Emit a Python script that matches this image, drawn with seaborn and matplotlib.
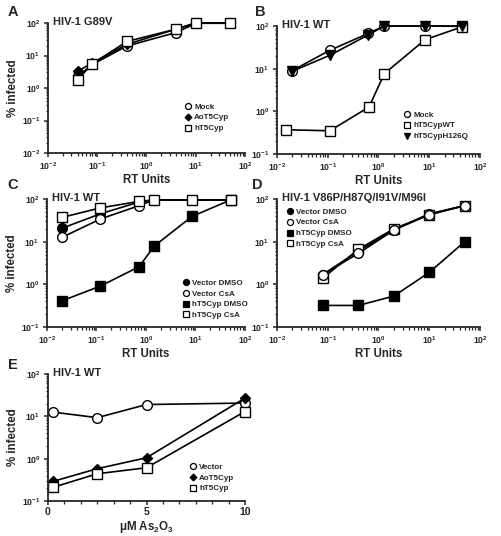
import numpy as np
import pandas as pd
import matplotlib
matplotlib.use("Agg")
import matplotlib.pyplot as plt
import seaborn as sns
from matplotlib.lines import Line2D
from matplotlib.ticker import LogLocator, FixedLocator, MultipleLocator, NullFormatter

sns.set_style("ticks")
plt.rcParams['font.family'] = ['Liberation Sans', 'DejaVu Sans']
plt.rcParams['font.weight'] = 'bold'
plt.rcParams['mathtext.fontset'] = 'custom'
plt.rcParams['mathtext.rm'] = 'Liberation Sans:bold'
plt.rcParams['mathtext.bf'] = 'Liberation Sans:bold'
plt.rcParams['mathtext.it'] = 'Liberation Sans:bold'

# ---------------- Data ----------------
# Panel A: HIV-1 G89V
a_x = [0.04, 0.08, 0.4, 4, 10, 50]
a_mock = [2.3, 5.3, 19.6, 51, 98, 98]
a_ao = [3.3, 5.9, 22, 65, 100, 100]
a_h = [1.8, 5.6, 27, 65, 100, 100]

# Panel B: HIV-1 WT
b_x = [0.02, 0.11, 0.63, 1.3, 8.3, 45]
b_x_wt = [0.015, 0.11, 0.65, 1.3, 8.3, 45]
b_mock = [9, 27, 67, 100, 100, 98]
b_wt = [0.37, 0.35, 1.26, 7.6, 48, 96]
b_h126q = [8.7, 20.6, 62, 100, 100, 100]

# Panel C: HIV-1 WT
c_x = [0.02, 0.12, 0.73, 1.45, 8.5, 51]
c_vec_dmso = [20.6, 45, 85, 95, 95, 95]
c_vec_csa = [12.6, 34, 70, 95, 95, 95]
c_h_dmso = [0.41, 0.91, 2.6, 7.8, 39, 95]
c_h_csa = [37, 62, 88, 95, 95, 95]

# Panel D: HIV-1 V86P/H87Q/I91V/M96I
d_x = [0.08, 0.4, 2, 10, 50]
d_vec_dmso = [1.7, 6, 19, 45, 70]
d_vec_csa = [1.7, 5.3, 18.6, 43, 70]
d_h_dmso = [0.32, 0.32, 0.53, 1.9, 10]
d_h_csa = [1.4, 6.6, 20, 43, 70]

# Panel E: HIV-1 WT vs As2O3
e_x = [0.25, 2.5, 5, 10]
e_vec = [12.6, 9.3, 19, 20.6]
e_ao = [0.29, 0.58, 1.05, 27]
e_h = [0.21, 0.44, 0.61, 13]

W, H = 502, 536
fig = plt.figure(figsize=(W / 100, H / 100), dpi=100)


def add_ax(l, r, t, b):
    return fig.add_axes([l / W, 1 - b / H, (r - l) / W, (b - t) / H])


STY = {
    'circle_w': dict(marker='o', markerfacecolor='white', markersize=7),
    'circle_k': dict(marker='o', markerfacecolor='black', markersize=7),
    'square_w': dict(marker='s', markerfacecolor='white', markersize=7.5),
    'square_k': dict(marker='s', markerfacecolor='black', markersize=7),
    'diamond_k': dict(marker='D', markerfacecolor='black', markersize=5.5),
    'tri_k': dict(marker='v', markerfacecolor='black', markersize=7),
}


def series(ax, x, y, key):
    df = pd.DataFrame({'x': x, 'y': y})
    sns.lineplot(data=df, x='x', y='y', ax=ax, color='black', linewidth=1.2,
                 markeredgecolor='black', markeredgewidth=1.0, sort=False,
                 estimator=None, clip_on=False, **STY[key])


def sup(e):
    return r"$\mathbf{10^{%d}}$" % e


def style_log(ax, xlim, ylim, xexps, yexps):
    ax.set_xscale('log')
    ax.set_yscale('log')
    ax.set_xlim(*xlim)
    ax.set_ylim(*ylim)
    ax.xaxis.set_major_locator(FixedLocator([10.0 ** e for e in xexps]))
    ax.set_xticklabels([sup(e) for e in xexps])
    ax.yaxis.set_major_locator(FixedLocator([10.0 ** e for e in yexps]))
    ax.set_yticklabels([sup(e) for e in yexps])
    ax.xaxis.set_minor_locator(LogLocator(base=10, subs=np.arange(2, 10), numticks=20))
    ax.yaxis.set_minor_locator(LogLocator(base=10, subs=np.arange(2, 10), numticks=20))
    ax.xaxis.set_minor_formatter(NullFormatter())
    ax.yaxis.set_minor_formatter(NullFormatter())


def common(ax, title, xlabel, ylabel):
    sns.despine(ax=ax)
    for s in ['left', 'bottom']:
        ax.spines[s].set_linewidth(1.3)
    ax.tick_params(which='major', direction='out', length=3, width=1.1, labelsize=6.2, pad=2.5)
    ax.tick_params(which='minor', direction='out', length=1.8, width=0.9)
    ax.text(0.025, 1.01, title, transform=ax.transAxes, fontsize=8, fontweight='bold',
            ha='left', va='center')
    ax.set_xlabel(xlabel, fontsize=8.3, fontweight='bold', labelpad=1.5)
    ax.set_ylabel(ylabel, fontsize=8.3, fontweight='bold', labelpad=2)


def legend(ax, items, lx, ty):
    handles = [Line2D([], [], linestyle='none', color='black', markeredgecolor='black',
                      markeredgewidth=0.9, **{k: v for k, v in STY[key].items()})
               for key, _ in items]
    labels = [lab for _, lab in items]
    ax.legend(handles, labels, loc='upper left', bbox_to_anchor=(lx / W, 1 - ty / H),
              bbox_transform=fig.transFigure, frameon=False, handlelength=0.9,
              handletextpad=0.35, labelspacing=0.4, borderpad=0, borderaxespad=0,
              markerscale=0.62, prop={'size': 5.8, 'weight': 'bold'})


# Panel A
axA = add_ax(48, 245, 23, 153)
series(axA, a_x, a_mock, 'circle_w')
series(axA, a_x, a_ao, 'diamond_k')
series(axA, a_x, a_h, 'square_w')
style_log(axA, (1e-2, 1e2), (1e-2, 1e2), [-2, -1, 0, 1, 2], [-2, -1, 0, 1, 2])
common(axA, 'HIV-1 G89V', 'RT Units', '% infected')
legend(axA, [('circle_w', 'Mock'), ('diamond_k', 'AoT5Cyp'), ('square_w', 'hT5Cyp')], 184, 103)

# Panel B
axB = add_ax(277, 480, 26, 154)
series(axB, b_x, b_mock, 'circle_w')
series(axB, b_x_wt, b_wt, 'square_w')
series(axB, b_x, b_h126q, 'tri_k')
style_log(axB, (1e-2, 1e2), (1e-1, 1e2), [-2, -1, 0, 1, 2], [-1, 0, 1, 2])
common(axB, 'HIV-1 WT', 'RT Units', '')
legend(axB, [('circle_w', 'Mock'), ('square_w', 'hT5CypWT'), ('tri_k', 'hT5CypH126Q')], 403, 111)

# Panel C
axC = add_ax(47, 245, 199, 327)
series(axC, c_x, c_vec_dmso, 'circle_k')
series(axC, c_x, c_vec_csa, 'circle_w')
series(axC, c_x, c_h_dmso, 'square_k')
series(axC, c_x, c_h_csa, 'square_w')
style_log(axC, (1e-2, 1e2), (1e-1, 1e2), [-2, -1, 0, 1, 2], [-1, 0, 1, 2])
common(axC, 'HIV-1 WT', 'RT Units', '% infected')
legend(axC, [('circle_k', 'Vector DMSO'), ('circle_w', 'Vector CsA'),
             ('square_k', 'hT5Cyp DMSO'), ('square_w', 'hT5Cyp CsA')], 182, 279)

# Panel D
axD = add_ax(277, 480, 199, 327)
series(axD, d_x, d_vec_dmso, 'circle_k')
series(axD, d_x, d_h_dmso, 'square_k')
series(axD, d_x, d_h_csa, 'square_w')
series(axD, d_x, d_vec_csa, 'circle_w')
style_log(axD, (1e-2, 1e2), (1e-1, 1e2), [-2, -1, 0, 1, 2], [-1, 0, 1, 2])
common(axD, 'HIV-1 V86P/H87Q/I91V/M96I', 'RT Units', '')
legend(axD, [('circle_k', 'Vector DMSO'), ('circle_w', 'Vector CsA'),
             ('square_k', 'hT5Cyp DMSO'), ('square_w', 'hT5Cyp CsA')], 286, 208)

# Panel E
axE = add_ax(48, 245, 374, 501)
series(axE, e_x, e_vec, 'circle_w')
series(axE, e_x, e_ao, 'diamond_k')
series(axE, e_x, e_h, 'square_w')
axE.set_yscale('log')
axE.set_xlim(0, 10)
axE.set_ylim(1e-1, 1e2)
axE.xaxis.set_major_locator(FixedLocator([0, 5, 10]))
axE.set_xticklabels(['0', '5', '10'])
axE.xaxis.set_minor_locator(MultipleLocator(5 / 6))
axE.yaxis.set_major_locator(FixedLocator([0.1, 1, 10, 100]))
axE.set_yticklabels([sup(e) for e in [-1, 0, 1, 2]])
axE.yaxis.set_minor_locator(LogLocator(base=10, subs=np.arange(2, 10), numticks=20))
axE.yaxis.set_minor_formatter(NullFormatter())
common(axE, 'HIV-1 WT', r'μM As$_\mathbf{2}$O$_\mathbf{3}$', '% infected')
axE.tick_params(axis='x', which='major', labelsize=7.5, pad=1.5)
legend(axE, [('circle_w', 'Vector'), ('diamond_k', 'AoT5Cyp'), ('square_w', 'hT5Cyp')], 189, 463)

# Panel letters
for lab, (x, y) in {'A': (13, 12), 'B': (260, 12), 'C': (13, 185), 'D': (257, 185), 'E': (13, 365)}.items():
    fig.text(x / W, 1 - y / H, lab, fontsize=10.5, fontweight='bold', ha='center', va='center')

fig.savefig('out.png', dpi=100)
